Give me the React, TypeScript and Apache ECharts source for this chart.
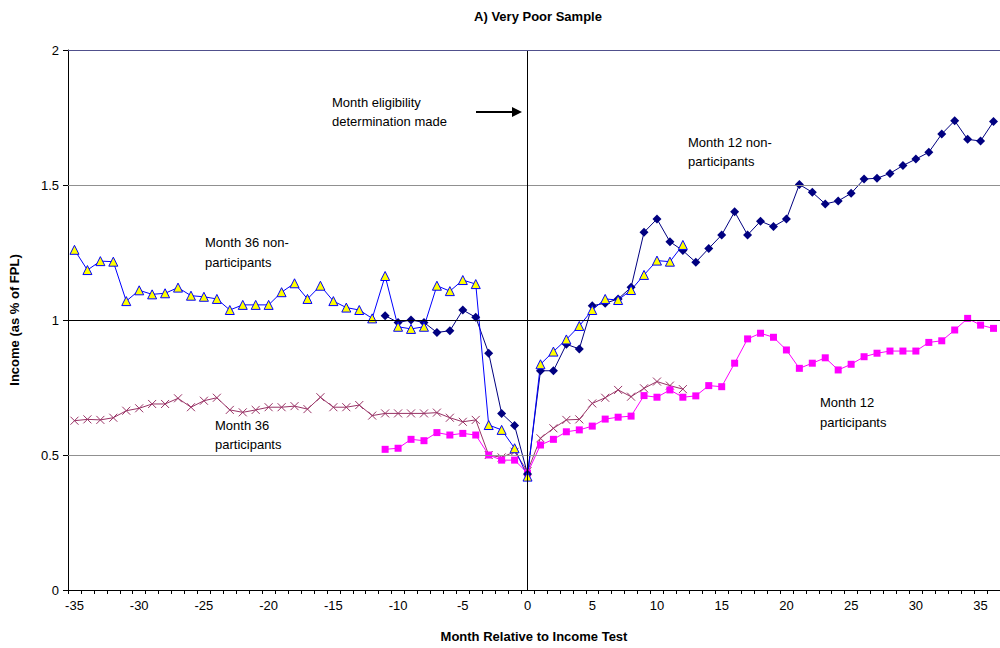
import React, { useEffect, useRef } from "react";
import * as echarts from "echarts";

const FIRST_MONTH = -35;
const LAST_MONTH = 36;
const months: string[] = [];
for (let m = FIRST_MONTH; m <= LAST_MONTH; m++) months.push(String(m));

// Month 36 non-participants: months -35..12
const m36NonStart = -35;
const m36NonParticipants = [
  1.26, 1.185, 1.218, 1.216, 1.07, 1.11, 1.095, 1.099, 1.12, 1.09, 1.086, 1.078,
  1.037, 1.056, 1.056, 1.056, 1.103, 1.136, 1.078, 1.127, 1.07, 1.046, 1.037, 1.006,
  1.163, 0.975, 0.967, 0.975, 1.127, 1.107, 1.148, 1.133, 0.611, 0.593, 0.525, 0.42,
  0.836, 0.883, 0.928, 0.978, 1.037, 1.078, 1.074, 1.111, 1.167, 1.22, 1.216, 1.278,
];

// Month 12 non-participants: months -11..36
const m12NonStart = -11;
const m12NonParticipants = [
  1.016, 0.991, 1.0, 0.991, 0.954, 0.96, 1.037, 1.01, 0.877, 0.654, 0.609, 0.43,
  0.812, 0.812, 0.91, 0.893, 1.053, 1.062, 1.078, 1.121, 1.325, 1.374, 1.29, 1.257,
  1.214, 1.265, 1.315, 1.401, 1.315, 1.366, 1.346, 1.374, 1.502, 1.473, 1.43, 1.441,
  1.469, 1.522, 1.525, 1.543, 1.572, 1.596, 1.621, 1.689, 1.738, 1.669, 1.663, 1.735,
];

// Month 36 participants: months -35..12
const m36PartStart = -35;
const m36Participants = [
  0.627, 0.632, 0.63, 0.638, 0.664, 0.673, 0.689, 0.689, 0.71, 0.677, 0.701, 0.712,
  0.667, 0.658, 0.667, 0.677, 0.677, 0.681, 0.67, 0.714, 0.677, 0.677, 0.685, 0.646,
  0.654, 0.654, 0.654, 0.654, 0.657, 0.638, 0.623, 0.63, 0.5, 0.491, 0.512, 0.44,
  0.562, 0.599, 0.63, 0.632, 0.691, 0.712, 0.741, 0.716, 0.747, 0.772, 0.757, 0.744,
];

// Month 12 participants: months -11..36
const m12PartStart = -11;
const m12Participants = [
  0.521, 0.525, 0.558, 0.553, 0.583, 0.574, 0.58, 0.574, 0.5, 0.481, 0.481, 0.433,
  0.537, 0.558, 0.586, 0.593, 0.607, 0.633, 0.64, 0.644, 0.72, 0.714, 0.741, 0.714,
  0.719, 0.757, 0.753, 0.84, 0.93, 0.951, 0.936, 0.889, 0.821, 0.84, 0.86, 0.815,
  0.836, 0.864, 0.877, 0.885, 0.885, 0.885, 0.917, 0.923, 0.963, 1.006, 0.981, 0.969,
];

const ELIGIBILITY_MONTH = "0";
const GRID_LEVELS = [0.5, 1.5];
const REFERENCE_LEVEL = 1;
const TOP_LEVEL = 2;

function align(values: number[], start: number): (number | null)[] {
  return months.map((_, i) => {
    const m = FIRST_MONTH + i;
    const j = m - start;
    return j >= 0 && j < values.length ? values[j] : null;
  });
}

const FONT = "Arial, 'Liberation Sans', sans-serif";

export default function App() {
  const ref = useRef<HTMLDivElement>(null);
  useEffect(() => {
    document.body.style.margin = "0";
    const chart = echarts.init(ref.current!, null, { renderer: "svg" });
    const xSymbol = "path://M0,0L10,10M10,0L0,10";
    chart.setOption({
      animation: false,
      backgroundColor: "#ffffff",
      textStyle: { fontFamily: FONT },
      title: {
        text: "A) Very Poor Sample",
        left: 533,
        top: 5,
        textAlign: "center",
        textStyle: { fontFamily: FONT, fontSize: 13, fontWeight: "bold", color: "#000" },
      },
      grid: { left: 65, top: 50, width: 936, height: 540 },
      xAxis: {
        type: "category",
        data: months,
        boundaryGap: true,
        name: "Month Relative to Income Test",
        nameLocation: "middle",
        nameGap: 40,
        nameTextStyle: { fontFamily: FONT, fontSize: 13, fontWeight: "bold", color: "#000" },
        axisLine: { lineStyle: { color: "#000", width: 1 } },
        axisTick: { show: true, interval: 0, length: 4, lineStyle: { color: "#000" } },
        axisLabel: {
          interval: (idx: number, val: string) => Number(val) % 5 === 0,
          fontFamily: FONT,
          fontSize: 13,
          color: "#000",
          margin: 9,
        },
        splitLine: { show: false },
      },
      yAxis: {
        type: "value",
        min: 0,
        max: 2,
        interval: 0.5,
        name: "Income (as % of FPL)",
        nameLocation: "middle",
        nameGap: 47,
        nameTextStyle: { fontFamily: FONT, fontSize: 13, fontWeight: "bold", color: "#000" },
        axisLine: { show: true, lineStyle: { color: "#000", width: 1 } },
        axisTick: { show: true, length: 5, lineStyle: { color: "#000" } },
        axisLabel: { fontFamily: FONT, fontSize: 13, color: "#000", margin: 9 },
        splitLine: { show: false },
      },
      series: [
        {
          name: "Month 36 participants",
          type: "line",
          data: align(m36Participants, m36PartStart),
          symbol: xSymbol,
          symbolSize: 8,
          showAllSymbol: true,
          lineStyle: { color: "#993366", width: 1 },
          itemStyle: { color: "rgba(0,0,0,0)", borderColor: "#993366", borderWidth: 1 },
          markLine: {
            silent: true,
            symbol: "none",
            label: { show: false },
            lineStyle: { color: "#000", type: "solid", width: 1, opacity: 1 },
            data: [
              ...GRID_LEVELS.map((v) => ({ yAxis: v, lineStyle: { color: "#909090" } })),
              { xAxis: months.indexOf(ELIGIBILITY_MONTH) },
              { yAxis: REFERENCE_LEVEL },
              { yAxis: TOP_LEVEL, lineStyle: { color: "#50508c" } },
            ],
          },
        },
        {
          name: "Month 12 participants",
          type: "line",
          data: align(m12Participants, m12PartStart),
          symbol: "rect",
          symbolSize: 7,
          showAllSymbol: true,
          lineStyle: { color: "#ff00ff", width: 1 },
          itemStyle: { color: "#ff00ff" },
        },
        {
          name: "Month 12 non-participants",
          type: "line",
          data: align(m12NonParticipants, m12NonStart),
          symbol: "diamond",
          symbolSize: 9,
          showAllSymbol: true,
          lineStyle: { color: "#000080", width: 1 },
          itemStyle: { color: "#000080" },
        },
        {
          name: "Month 36 non-participants",
          type: "line",
          data: align(m36NonParticipants, m36NonStart),
          symbol: "triangle",
          symbolSize: 9,
          showAllSymbol: true,
          lineStyle: { color: "#0000ff", width: 1 },
          itemStyle: { color: "#ffff00", borderColor: "#0000ff", borderWidth: 1 },
        },
      ],
      graphic: [
        { type: "text", left: 332, top: 93, style: { text: "Month eligibility\ndetermination made", font: `13px ${FONT}`, fill: "#000", lineHeight: 19 } },
        { type: "line", shape: { x1: 476, y1: 112, x2: 514, y2: 112 }, style: { stroke: "#000", lineWidth: 2 } },
        { type: "polygon", shape: { points: [[512, 107], [522, 112], [512, 117]] }, style: { fill: "#000" } },
        { type: "text", left: 205, top: 232, style: { text: "Month 36 non-\nparticipants", font: `13px ${FONT}`, fill: "#000", lineHeight: 20 } },
        { type: "text", left: 688, top: 133, style: { text: "Month 12 non-\nparticipants", font: `13px ${FONT}`, fill: "#000", lineHeight: 19 } },
        { type: "text", left: 215, top: 416, style: { text: "Month 36\nparticipants", font: `13px ${FONT}`, fill: "#000", lineHeight: 19 } },
        { type: "text", left: 820, top: 392, style: { text: "Month 12\nparticipants", font: `13px ${FONT}`, fill: "#000", lineHeight: 20 } },
      ],
    });
    return () => chart.dispose();
  }, []);
  return <div ref={ref} style={{ width: 1000, height: 648 }} />;
}
